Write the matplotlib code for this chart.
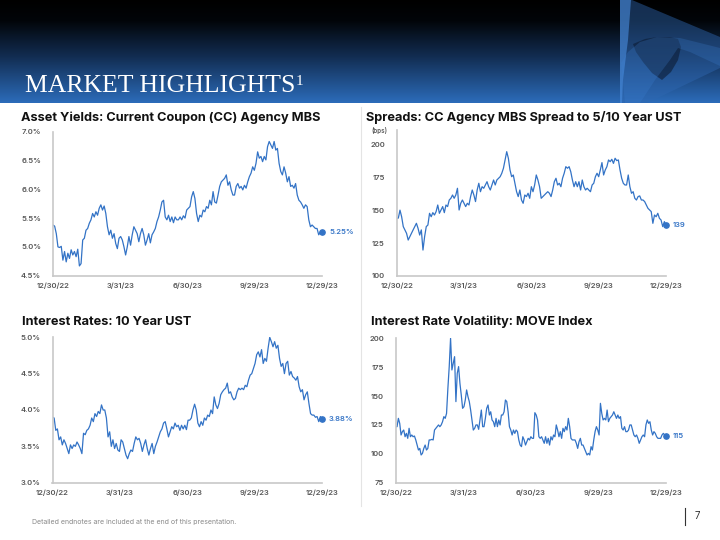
import matplotlib
matplotlib.use('Agg')
import matplotlib.pyplot as plt
from matplotlib.colors import LinearSegmentedColormap
from matplotlib.patches import Polygon
from matplotlib.lines import Line2D
import numpy as np
import pandas as pd

# ---- data ----
start, end = '2022-12-30', '2023-12-29'
tick_dates = ['2022-12-30', '2023-03-31', '2023-06-30', '2023-09-29', '2023-12-29']
tick_labels = ['12/30/22', '3/31/23', '6/30/23', '9/29/23', '12/29/23']

cc_mbs_yield = [5.38, 5.36, 5.23, 5.00, 4.99, 5.01, 4.77, 4.92, 4.74, 4.89, 4.80, 4.95, 4.86, 4.92,
                4.83, 4.96, 4.67, 4.71, 5.12, 5.15, 5.29, 5.32, 5.41, 5.47, 5.58, 5.52, 5.61, 5.55,
                5.67, 5.73, 5.64, 5.71, 5.58, 5.35, 5.21, 5.29, 5.15, 5.23, 5.06, 4.97, 5.15, 5.18,
                5.12, 5.00, 4.86, 5.00, 5.18, 5.03, 5.21, 5.35, 5.29, 5.23, 5.09, 5.23, 5.32, 5.21,
                5.03, 5.12, 5.23, 5.07, 5.21, 5.26, 5.32, 5.44, 5.52, 5.64, 5.78, 5.81, 5.52, 5.47,
                5.55, 5.44, 5.52, 5.42, 5.52, 5.47, 5.47, 5.52, 5.47, 5.54, 5.50, 5.64, 5.67, 5.70,
                5.87, 5.96, 5.84, 5.58, 5.44, 5.55, 5.52, 5.64, 5.61, 5.70, 5.67, 5.81, 5.73, 5.96,
                5.78, 5.76, 5.90, 6.05, 6.13, 6.16, 6.19, 6.25, 6.07, 6.13, 5.99, 5.90, 5.90, 6.05,
                6.10, 6.02, 6.05, 5.99, 6.07, 6.02, 6.13, 6.22, 6.28, 6.39, 6.33, 6.45, 6.65, 6.54,
                6.57, 6.48, 6.57, 6.51, 6.74, 6.83, 6.77, 6.71, 6.83, 6.68, 6.71, 6.45, 6.31, 6.25,
                6.39, 6.28, 6.13, 6.22, 6.05, 6.07, 6.02, 6.10, 5.90, 5.81, 5.78, 5.73, 5.67, 5.73,
                5.70, 5.47, 5.35, 5.38, 5.35, 5.32, 5.32, 5.21, 5.26, 5.25]

mbs_spread = [143.8, 144, 150, 145, 137.5, 135, 132.4, 127.3, 129.9, 132.4, 135, 137.5, 140, 136.2,
              131.1, 135, 119.7, 129.9, 137.5, 138.7, 147.6, 145, 148.1, 146.3, 148.9, 153.9, 147.6,
              150.1, 152.7, 148.1, 153.9, 152.7, 157.7, 159, 161.5, 159, 161.5, 166.6, 150.1, 155.2,
              157.7, 155.2, 152.7, 155.2, 153.9, 160.3, 165.3, 161.5, 156.5, 165.3, 170.4, 164,
              167.8, 166.6, 169.1, 171.6, 167.8, 165.3, 169.1, 172.9, 169.1, 172.9, 174.2, 175.4,
              178, 181.8, 188.1, 194.4, 189.4, 180.5, 175.4, 176.7, 170.4, 164, 160.3, 165.3, 157.7,
              155.2, 161.5, 160.3, 162.8, 159, 167.8, 164, 169.1, 176.7, 172.9, 167.8, 159, 160.3,
              161.5, 162.8, 164, 162.8, 160.3, 165.3, 171.6, 174.2, 169.1, 170.4, 167.8, 174.2, 178,
              183, 181.8, 183, 179.2, 172.9, 167.8, 171.6, 167.8, 171.6, 165.3, 172.9, 167.8, 165.3,
              166.6, 165.3, 164, 169.1, 170.4, 175.4, 178, 175.4, 180.5, 186.1, 176.7, 180.5, 183,
              188.1, 186.8, 188.6, 185.5, 189.4, 187.6, 188.1, 180.5, 174.2, 170.4, 169.1, 169.1,
              176.7, 167.8, 162.8, 164, 159, 157.7, 160.3, 160.8, 157.7, 157.7, 156.5, 153.9, 151.4,
              150.1, 148.9, 140, 146.3, 145, 147.6, 143.8, 142.5, 137.5, 141.3, 139]

ust_10y = [3.90, 3.89, 3.72, 3.74, 3.59, 3.63, 3.52, 3.59, 3.54, 3.47, 3.40, 3.52, 3.47, 3.52, 3.50,
           3.56, 3.52, 3.47, 3.40, 3.68, 3.66, 3.72, 3.74, 3.79, 3.89, 3.84, 3.95, 3.91, 3.98, 3.95,
           4.07, 4.00, 4.00, 3.89, 3.63, 3.70, 3.50, 3.59, 3.47, 3.54, 3.45, 3.43, 3.59, 3.56, 3.47,
           3.38, 3.33, 3.40, 3.45, 3.43, 3.54, 3.63, 3.59, 3.61, 3.54, 3.43, 3.52, 3.59, 3.47, 3.38,
           3.47, 3.54, 3.40, 3.50, 3.56, 3.63, 3.70, 3.74, 3.82, 3.84, 3.74, 3.63, 3.70, 3.77, 3.74,
           3.82, 3.77, 3.79, 3.72, 3.79, 3.74, 3.79, 3.73, 3.86, 3.86, 3.89, 4.00, 4.08, 4.00, 3.82,
           3.77, 3.84, 3.79, 3.89, 3.86, 3.93, 3.91, 4.00, 3.95, 4.18, 4.07, 4.02, 4.09, 4.21, 4.25,
           4.28, 4.30, 4.37, 4.23, 4.25, 4.18, 4.14, 4.16, 4.25, 4.30, 4.28, 4.30, 4.28, 4.34, 4.32,
           4.41, 4.48, 4.50, 4.57, 4.64, 4.76, 4.80, 4.73, 4.83, 4.64, 4.71, 4.67, 4.85, 5.00, 4.94,
           4.87, 4.94, 4.85, 4.89, 4.71, 4.60, 4.64, 4.50, 4.64, 4.67, 4.48, 4.53, 4.46, 4.44, 4.41,
           4.46, 4.32, 4.25, 4.28, 4.14, 4.21, 4.25, 4.09, 3.95, 3.93, 3.93, 3.90, 3.91, 3.84, 3.91,
           3.88]

move_index = [123.5, 123.5, 130.7, 126.4, 116.3, 119.2, 120.6, 114.8, 117.7, 113.4, 122.1, 114.8,
              116.3, 114.8, 115.4, 112, 107.6, 103.3, 104.7, 99, 100.4, 104.7, 107.6, 103.3, 104.7,
              112, 112, 112.5, 112, 120.6, 122.1, 123.5, 125, 123.5, 125, 127.8, 132.2, 130.7, 135,
              156.7, 175.5, 200, 172.6, 178.3, 184.1, 145.2, 169.7, 175.5, 161, 150.9, 139.4, 140.8,
              146.6, 155.3, 149.5, 145.2, 137.9, 129.3, 120.6, 122.1, 125, 125, 121.2, 129.3, 137.9,
              123.5, 123.5, 130.7, 139.4, 142.3, 133.6, 136.4, 129.3, 127.8, 123.5, 130.7, 123.5,
              129.3, 125, 133.6, 133.6, 136.4, 146.6, 145.2, 136.4, 123.5, 120.6, 116.3, 120.6, 117.7,
              120.6, 119.2, 112, 107.6, 106.2, 114.8, 112, 107.6, 110.5, 113.4, 112, 114.8, 113.4,
              113.4, 135.6, 133.6, 129.3, 114.8, 113.4, 114.8, 112, 109.1, 114.8, 109.1, 113.4, 107.6,
              114.8, 112, 116.3, 114.8, 125, 120.6, 114.8, 119.2, 113.4, 122.1, 119.2, 123.5, 120.6,
              130.7, 123.5, 113.4, 112, 112, 112, 109.1, 104.7, 110.5, 113.4, 107.6, 107.6, 104.7,
              101.9, 99, 100.4, 99, 106.2, 103.3, 112, 119.2, 123.5, 120.6, 116.3, 143.7, 135, 129.3,
              130.7, 129.3, 137.9, 127.8, 130.7, 132.2, 133.6, 136.4, 133.6, 130.7, 133.6, 130.7,
              132.2, 122.1, 120.6, 123.5, 119.2, 119.2, 120.6, 125, 125, 120.6, 116.3, 114.8, 116.3,
              113.4, 109.1, 112, 114.8, 116.3, 114.8, 125, 129.3, 126.4, 127.8, 120.6, 116.3, 119.2,
              117.7, 114.8, 113.4, 113.4, 113.4, 116.3, 117.7, 116.3, 115]

# ---- styling ----
plt.rcParams['font.family'] = ['Inter', 'DejaVu Sans']
BLUE = '#3373c6'
SPINE = '#c8c8c8'
TICK = '#555555'
W, H = 720, 540


def fx(px):
    return px / W


def fy(py):
    return 1 - py / H


fig = plt.figure(figsize=(7.2, 5.4), dpi=100)

# header band with gradient
hdr = fig.add_axes([0, fy(103), 1, 103 / H])
grad = np.linspace(0, 1, 256).reshape(-1, 1)
cmap = LinearSegmentedColormap.from_list(
    'hdr', [(0, '#000000'), (0.2, '#020509'), (0.55, '#122d52'), (1, '#2c6cba')])
hdr.imshow(grad, aspect='auto', cmap=cmap, extent=[0, W, 103, 0])
hdr.set_xlim(0, W)
hdr.set_ylim(103, 0)
hdr.axis('off')

# logo shapes (translucent triangle with a dark lens)
hdr.add_patch(Polygon([(620, 0), (632, 0), (720, 37), (720, 68), (647, 103), (620, 103)],
                      closed=True, color='#2f68b2', alpha=0.45, lw=0))
hdr.add_patch(Polygon([(620, 0), (631, 0), (628, 40), (623, 80), (622, 103), (620, 103)],
                      closed=True, color='#4a8ee0', alpha=0.6, lw=0))
hdr.add_patch(Polygon([(633, 44), (645, 39), (657, 37), (670, 37), (678, 39), (681, 47),
                       (678, 60), (671, 72), (662, 80), (652, 73), (643, 62), (636, 52)],
                      closed=True, color='#0c1b33', alpha=0.6, lw=0))
hdr.add_patch(Polygon([(621, 63), (628, 52), (640, 42), (657, 37), (680, 38), (720, 48),
                       (720, 66), (690, 52), (678, 48), (670, 60), (655, 80), (640, 103),
                       (625, 103)],
                      closed=True, color='#3d80d2', alpha=0.25, lw=0))

title = fig.text(fx(25), fy(92), 'MARKET HIGHLIGHTS', family='Liberation Serif',
                 fontsize=18.5, color='white', va='baseline')
fig.canvas.draw()
bb = title.get_window_extent()
fig.text(bb.x1 / W + 0.001, fy(85), '1', family='Liberation Serif', fontsize=11,
         color='white', va='baseline')

# divider between columns
fig.add_artist(Line2D([fx(361), fx(361)], [fy(107), fy(506)], color='#e4e4e4', lw=0.8))


def panel(rect, values, ylim, yticks, yfmt, end_label, title_text, title_xy):
    ax = fig.add_axes(rect)
    dates = pd.date_range(start, end, periods=len(values))
    ax.plot(dates, values, color=BLUE, lw=0.9)
    ax.plot(dates[-1], values[-1], 'o', color=BLUE, ms=3.8, clip_on=False)
    ax.annotate(end_label, (dates[-1], values[-1]), xytext=(5, 0), textcoords='offset points',
                va='center', ha='left', fontsize=5.5, color=BLUE, fontweight='semibold',
                annotation_clip=False)
    ax.set_xlim(pd.Timestamp(start), pd.Timestamp(end))
    ax.set_ylim(*ylim)
    ax.set_yticks(yticks)
    ax.set_yticklabels([yfmt.format(v) for v in yticks])
    ax.set_xticks(pd.to_datetime(tick_dates))
    ax.set_xticklabels(tick_labels)
    for s in ['top', 'right']:
        ax.spines[s].set_visible(False)
    for s in ['left', 'bottom']:
        ax.spines[s].set_color(SPINE)
        ax.spines[s].set_linewidth(1.2)
    ax.tick_params(axis='y', length=0, labelsize=5.5, labelcolor=TICK, pad=8.5)
    ax.tick_params(axis='x', length=0, labelsize=5.5, labelcolor=TICK, pad=5)
    for lab in ax.get_xticklabels() + ax.get_yticklabels():
        lab.set_fontweight('semibold')
    fig.text(fx(title_xy[0]), fy(title_xy[1]), title_text, fontsize=9.2, fontweight='bold',
             color='#111111', va='baseline')
    return ax


panel([fx(53), fy(275.7), fx(322) - fx(53), (275.7 - 131.7) / H], cc_mbs_yield,
      (4.5, 7.0), [4.5, 5.0, 5.5, 6.0, 6.5, 7.0], '{:.1f}%', '5.25%',
      'Asset Yields: Current Coupon (CC) Agency MBS', (21, 121.5))

panel([fx(396.7), fy(276), fx(666) - fx(396.7), (276 - 129.8) / H], mbs_spread,
      (100, 211), [100, 125, 150, 175, 200], '{:.0f}', '139',
      'Spreads: CC Agency MBS Spread to 5/10 Year UST', (366, 121.5))
fig.text(fx(371), fy(131), '(bps)', fontsize=4.5, color=TICK, va='center', fontweight='semibold')

panel([fx(52.5), fy(482.7), fx(322) - fx(52.5), (482.7 - 337.3) / H], ust_10y,
      (3.0, 5.0), [3.0, 3.5, 4.0, 4.5, 5.0], '{:.1f}%', '3.88%',
      'Interest Rates: 10 Year UST', (22, 325))

panel([fx(395.7), fy(482.7), fx(666) - fx(395.7), (482.7 - 338.3) / H], move_index,
      (75, 200), [75, 100, 125, 150, 175, 200], '{:.0f}', '115',
      'Interest Rate Volatility: MOVE Index', (371, 325))

# footer
fig.text(fx(32), fy(522), 'Detailed endnotes are included at the end of this presentation.',
         fontsize=5, color='#8a8a8a', va='center')
fig.add_artist(Line2D([fx(685), fx(685)], [fy(508), fy(525)], color='#333333', lw=0.8))
fig.text(fx(695), fy(516), '7', fontsize=7, color='#333333', va='center')

fig.savefig('out.png', dpi=100)
